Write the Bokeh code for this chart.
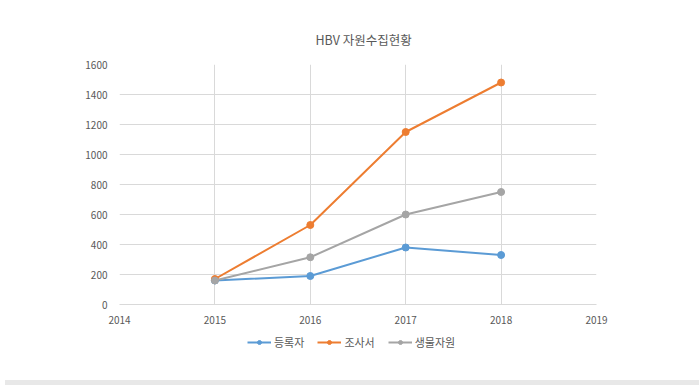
from bokeh.plotting import figure
from bokeh.models import Legend, LegendItem, Range1d, FixedTicker, Title, Div
from bokeh.layouts import column
from bokeh.embed import file_html
from bokeh.resources import INLINE

years = [2015, 2016, 2017, 2018]
registrants = [160, 190, 380, 330]      # 등록자
surveys = [170, 530, 1150, 1480]        # 조사서
bio_resources = [160, 315, 600, 750]    # 생물자원
x_ticks = [2014, 2015, 2016, 2017, 2018, 2019]
y_ticks = [0, 200, 400, 600, 800, 1000, 1200, 1400, 1600]

FONT = "Noto Sans CJK KR"
TXT = "#595959"
GRID = "#D9D9D9"
W = 699

p = figure(width=W, height=330, output_backend="svg", toolbar_location=None,
           x_range=Range1d(2014, 2019), y_range=Range1d(0, 1600),
           min_border_left=119, min_border_right=103, min_border_top=64, min_border_bottom=26)
p.title = Title(text="HBV 자원수집현황", align="left", offset=196,
                text_font=FONT, text_font_size="12.5px", text_font_style="normal",
                text_color=TXT, standoff=31)
p.outline_line_color = None
p.background_fill_color = "white"
p.border_fill_color = "white"

for ax in (p.xaxis, p.yaxis):
    ax.major_label_text_font = FONT
    ax.major_label_text_font_size = "10px"
    ax.major_label_text_color = TXT
    ax.major_tick_line_color = None
    ax.minor_tick_line_color = None
p.xaxis.ticker = FixedTicker(ticks=x_ticks)
p.yaxis.ticker = FixedTicker(ticks=y_ticks)
p.xaxis.axis_line_color = GRID
p.yaxis.axis_line_color = None
p.xaxis.major_label_standoff = 5
p.yaxis.major_label_standoff = 6

p.xgrid.ticker = FixedTicker(ticks=x_ticks)
p.ygrid.ticker = FixedTicker(ticks=y_ticks)
p.xgrid.grid_line_color = GRID
p.ygrid.grid_line_color = GRID

series = [("등록자", registrants, "#5B9BD5"),
          ("조사서", surveys, "#ED7D31"),
          ("생물자원", bio_resources, "#A5A5A5")]
for name, vals, col in series:
    p.line(years, vals, line_color=col, line_width=2)
    p.scatter(years, vals, marker="circle", size=7, fill_color=col, line_color=col)

# legend strip (separate figure so the legend is not clipped)
pl = figure(width=W, height=45, output_backend="svg", toolbar_location=None,
            x_range=Range1d(0, 1), y_range=Range1d(0, 1),
            min_border_left=0, min_border_right=0, min_border_top=0, min_border_bottom=0)
pl.axis.visible = False
pl.grid.visible = False
pl.outline_line_color = None
pl.border_fill_color = "white"
items = []
for name, vals, col in series:
    l = pl.line(years, vals, line_color=col, line_width=2)
    c = pl.scatter(years, vals, marker="circle", size=7, fill_color=col, line_color=col)
    items.append(LegendItem(label=name, renderers=[l, c]))
legend = Legend(items=items, orientation="horizontal", location=(128, 25),
                border_line_color=None, background_fill_alpha=0,
                label_text_font=FONT, label_text_font_size="11px", label_text_color=TXT,
                glyph_width=24, glyph_height=10, spacing=13, label_standoff=3,
                padding=0, margin=0)
pl.add_layout(legend, "center")

# bottom grey band
band = Div(text="", width=W, height=10, styles={"background-color": "#E8E8E8"})

layout = column(p, pl, band, spacing=0)
open("out.html", "w").write(file_html(layout, INLINE))
